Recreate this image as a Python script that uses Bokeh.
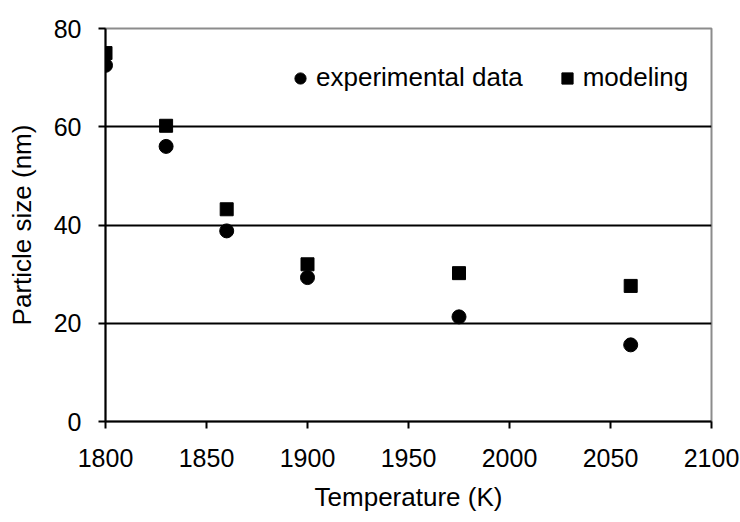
from bokeh.plotting import figure
from bokeh.models import (ColumnDataSource, FixedTicker, Legend, LegendItem)
from bokeh.embed import file_html
from bokeh.resources import INLINE

# Data
temp_exp = [1800, 1830, 1860, 1900, 1975, 2060]
size_exp = [72.5, 56.0, 38.8, 29.3, 21.3, 15.6]
temp_mod = [1800, 1830, 1860, 1900, 1975, 2060]
size_mod = [75.0, 60.2, 43.2, 32.0, 30.2, 27.6]
x_ticks = [1800, 1850, 1900, 1950, 2000, 2050, 2100]
y_ticks = [0, 20, 40, 60, 80]
grid_ticks = [20, 40, 60]

FONT = "Liberation Sans"

p = figure(width=740, height=522, x_range=(1800, 2100), y_range=(0, 80),
           output_backend="svg", toolbar_location=None,
           min_border_left=105, min_border_right=29, min_border_top=28,
           min_border_bottom=101, background_fill_color="white",
           border_fill_color="white")

p.outline_line_color = "#8c8c8c"
p.outline_line_width = 2

p.xgrid.visible = False
p.ygrid.ticker = FixedTicker(ticks=grid_ticks)
p.ygrid.grid_line_color = "black"
p.ygrid.grid_line_width = 2

for ax, ticks in ((p.xaxis, x_ticks), (p.yaxis, y_ticks)):
    ax.ticker = FixedTicker(ticks=ticks)
    ax.axis_line_color = "black"
    ax.axis_line_width = 2
    ax.major_tick_line_color = "black"
    ax.major_tick_line_width = 2
    ax.major_tick_out = 7
    ax.major_tick_in = 0
    ax.minor_tick_line_color = None
    ax.major_label_text_font = FONT
    ax.major_label_text_font_size = "25px"
    ax.major_label_text_color = "black"
    ax.axis_label_text_font = FONT
    ax.axis_label_text_font_size = "26px"
    ax.axis_label_text_font_style = "normal"
    ax.axis_label_text_color = "black"

p.xaxis.axis_label = "Temperature (K)"
p.yaxis.axis_label = "Particle size (nm)"
p.xaxis.major_label_standoff = 20
p.yaxis.major_label_standoff = 17
p.xaxis.axis_label_standoff = 12
p.yaxis.axis_label_standoff = 14

src_exp = ColumnDataSource(dict(x=temp_exp, y=size_exp))
src_mod = ColumnDataSource(dict(x=temp_mod, y=size_mod))

r_mod = p.scatter("x", "y", source=src_mod, marker="square", size=13,
                  fill_color="black", line_color="black")
r_exp = p.scatter("x", "y", source=src_exp, marker="circle", size=14,
                  fill_color="black", line_color="black")

legend = Legend(items=[LegendItem(label="experimental data", renderers=[r_exp]),
                       LegendItem(label="modeling", renderers=[r_mod])],
                orientation="horizontal", location=(181, 328),
                border_line_color=None, background_fill_alpha=0,
                label_text_font=FONT, label_text_font_size="26px",
                label_text_color="black", glyph_width=28, glyph_height=28,
                label_standoff=2, spacing=30, padding=0, margin=0)
p.add_layout(legend)

open("out.html", "w").write(file_html(p, INLINE))
